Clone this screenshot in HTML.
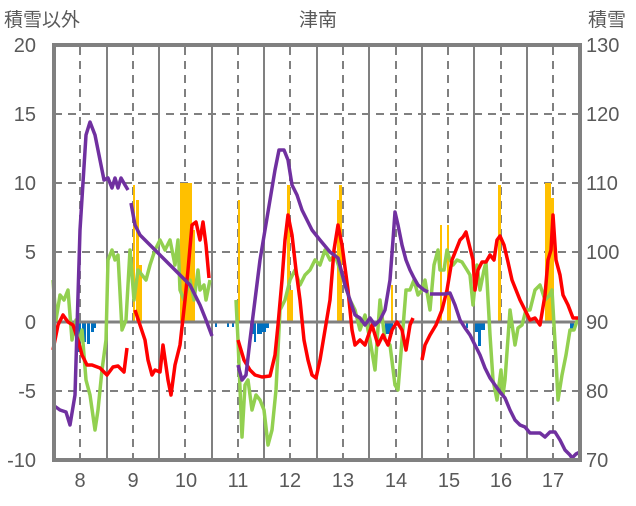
<!DOCTYPE html><html><head><meta charset="utf-8"><style>
body{margin:0;background:#fff;width:636px;height:501px;overflow:hidden}
svg{font-family:"Liberation Sans","Noto Sans CJK JP",sans-serif}
</style></head><body>
<svg width="636" height="501" viewBox="0 0 636 501">
<g fill="#595959" font-size="20">
<text x="4" y="26" font-size="19">積雪以外</text>
<text x="299" y="26" font-size="19">津南</text>
<text x="588" y="26" font-size="19">積雪</text>
<g text-anchor="end">
<text x="36" y="52">20</text><text x="36" y="121">15</text><text x="36" y="190">10</text><text x="36" y="259">5</text><text x="36" y="329">0</text><text x="36" y="398">-5</text><text x="36" y="467">-10</text></g>
<text x="586" y="52">130</text><text x="586" y="121">120</text><text x="586" y="190">110</text><text x="586" y="259">100</text><text x="586" y="329">90</text><text x="586" y="398">80</text><text x="586" y="467">70</text>
<g text-anchor="middle"><text x="80" y="487">8</text><text x="133" y="487">9</text><text x="186" y="487">10</text><text x="238" y="487">11</text><text x="290" y="487">12</text><text x="343" y="487">13</text><text x="396" y="487">14</text><text x="449" y="487">15</text><text x="501" y="487">16</text><text x="553" y="487">17</text></g>
</g>
<g stroke="#808080" stroke-width="2" stroke-dasharray="8,6">
<line x1="54" y1="114" x2="580" y2="114"/><line x1="54" y1="183" x2="580" y2="183"/><line x1="54" y1="252" x2="580" y2="252"/><line x1="54" y1="391" x2="580" y2="391"/>
<line x1="80" y1="47" x2="80" y2="460"/><line x1="133" y1="47" x2="133" y2="460"/><line x1="185" y1="47" x2="185" y2="460"/><line x1="238" y1="47" x2="238" y2="460"/><line x1="290" y1="47" x2="290" y2="460"/><line x1="343" y1="47" x2="343" y2="460"/><line x1="396" y1="47" x2="396" y2="460"/><line x1="448" y1="47" x2="448" y2="460"/><line x1="501" y1="47" x2="501" y2="460"/><line x1="553" y1="47" x2="553" y2="460"/>
</g>
<g stroke="#808080" stroke-width="2">
<line x1="107" y1="47" x2="107" y2="460"/><line x1="159" y1="47" x2="159" y2="460"/><line x1="212" y1="47" x2="212" y2="460"/><line x1="264" y1="47" x2="264" y2="460"/><line x1="317" y1="47" x2="317" y2="460"/><line x1="369" y1="47" x2="369" y2="460"/><line x1="422" y1="47" x2="422" y2="460"/><line x1="474" y1="47" x2="474" y2="460"/><line x1="527" y1="47" x2="527" y2="460"/>
</g>
<g fill="#FFC000">
<rect x="133" y="185" width="2" height="137"/><rect x="136" y="200" width="3" height="122"/><rect x="139" y="265" width="3" height="57"/>
<rect x="180" y="183" width="12" height="139"/><rect x="192" y="230" width="3" height="92"/>
<rect x="238" y="200" width="2" height="122"/><rect x="287" y="185" width="3" height="137"/><rect x="290" y="290" width="3" height="32"/>
<rect x="337" y="200" width="2" height="122"/><rect x="339" y="185" width="3" height="137"/><rect x="391" y="285" width="2" height="37"/>
<rect x="440" y="225" width="2" height="97"/><rect x="447" y="225" width="2" height="97"/><rect x="449" y="295" width="2" height="27"/>
<rect x="498" y="185" width="3" height="137"/><rect x="545" y="183" width="6" height="139"/><rect x="551" y="198" width="3" height="124"/>
</g>
<g fill="#0070C0">
<rect x="75" y="322" width="3" height="12"/><rect x="78" y="322" width="3" height="30"/><rect x="82" y="322" width="4" height="20"/><rect x="87" y="322" width="3" height="22"/><rect x="91" y="322" width="3" height="10"/><rect x="94" y="322" width="2" height="6"/>
<rect x="215" y="322" width="2" height="5"/><rect x="227" y="322" width="2" height="5"/><rect x="232" y="322" width="2" height="5"/>
<rect x="250" y="322" width="4" height="12"/><rect x="254" y="322" width="2" height="20"/><rect x="257" y="322" width="5" height="12"/><rect x="262" y="322" width="4" height="10"/><rect x="266" y="322" width="3" height="6"/>
<rect x="385" y="322" width="8" height="12"/><rect x="466" y="322" width="2" height="6"/><rect x="475" y="322" width="6" height="10"/><rect x="478" y="322" width="3" height="24"/><rect x="481" y="322" width="4" height="8"/><rect x="508" y="322" width="3" height="6"/><rect x="570" y="322" width="4" height="7"/>
</g>
<line x1="54" y1="322" x2="580" y2="322" stroke="#808080" stroke-width="3"/>
<g fill="none" stroke-width="3.5" stroke-linejoin="round">
<polyline stroke="#92D050" points="53,280 56,320 60,295 64,300 68,290 72,340 76,320 78,345 82,330 86,380 90,395 95,430 98,410 102,370 106,340 108,260 112,250 115,260 118,255 122,330 126,320 130,250 134,300 138,270 142,275 146,280 150,265 155,250 160,240 165,250 170,240 175,265 178,240 180,290 184,300 187,290 190,280 194,300 198,270 200,290 204,285 206,300 210,280"/>
<polyline stroke="#92D050" points="236,300 238,340 242,437 245,385 248,380 252,410 256,395 260,400 264,410 268,445 272,430 276,390 280,310 285,300 290,280 295,270 300,285 305,275 310,270 315,260 320,265 325,250 330,260 335,255 340,270 345,285 350,300 355,310 360,330 365,315 370,340 375,370 380,300 385,340 390,345 395,385 398,390 402,340 406,290 410,290 414,280 418,295 422,290 425,280 430,310 434,265 438,250 440,270 444,270 447,250 450,260 453,265 457,260 462,262 467,270 470,275 473,305 477,265 480,290 484,270 486,262 490,335 493,380 497,400 501,370 503,395 505,380 510,310 515,345 518,328 522,325 526,310 530,310 535,290 540,285 545,300 549,296 552,290 556,360 558,400 562,375 566,355 570,330 574,330 578,318"/>
<polyline stroke="#FF0000" points="53,350 58,325 63,315 68,322 73,325 78,340 82,355 87,365 92,365 100,368 107,375 113,367 118,366 124,372 127,348"/>
<polyline stroke="#FF0000" points="135,310 140,325 145,340 148,360 152,375 155,370 160,372 163,345 168,380 171,395 175,365 180,345 185,300 188,270 192,225 196,222 200,240 203,222 206,245 209,278"/>
<polyline stroke="#FF0000" points="238,340 244,360 250,370 255,375 262,377 270,376 275,355 278,325 282,280 285,240 288,215 292,235 296,270 300,300 304,340 308,360 312,375 316,378 320,360 325,330 330,300 334,250 338,225 342,245 348,290 352,330 355,345 360,340 365,345 372,325 378,345 383,335 388,345 392,330 397,322 402,330 406,350 410,325 413,318"/>
<polyline stroke="#FF0000" points="422,360 425,345 430,335 436,325 442,310 447,290 452,260 456,250 460,240 463,237 466,232 470,248 473,260 475,290 478,270 482,262 486,262 490,255 494,260 497,240 500,236 504,245 508,262 512,280 516,290 520,300 525,310 530,320 535,318 540,325 545,295 548,260 551,250 553,215 556,260 560,275 563,295 568,305 573,318 578,318"/>
<polyline stroke="#7030A0" points="53,405 60,410 66,412 70,425 75,395 80,230 86,135 90,122 95,135 100,160 104,180 108,178 112,188 115,178 118,188 121,178 125,185 128,190"/>
<polyline stroke="#7030A0" points="131,203 135,225 140,235 145,240 150,245 160,255 170,265 180,275 190,285 200,305 206,320 212,336"/>
<polyline stroke="#7030A0" points="238,365 242,380 246,375 250,340 255,300 260,260 265,230 270,200 275,170 279,150 284,150 288,160 292,185 297,195 302,210 307,220 312,230 320,240 330,252 338,258 345,285 350,300 355,315 360,318 365,325 370,318 375,325 380,320 385,310 390,280 393,240 395,212 398,225 402,245 406,260 410,270 414,278 418,285 424,290 428,292"/>
<polyline stroke="#7030A0" points="430,294 445,294 450,293 455,305 460,320 465,328 470,335 475,345 480,355 485,368 490,378 495,385 500,392 505,398 510,410 515,420 520,425 525,427 530,433 540,433 545,437 550,432 555,432 560,440 565,450 570,455 572,458 576,454 580,452"/>
</g>
<rect x="54" y="45" width="526" height="415" fill="none" stroke="#808080" stroke-width="4"/>
</svg></body></html>
